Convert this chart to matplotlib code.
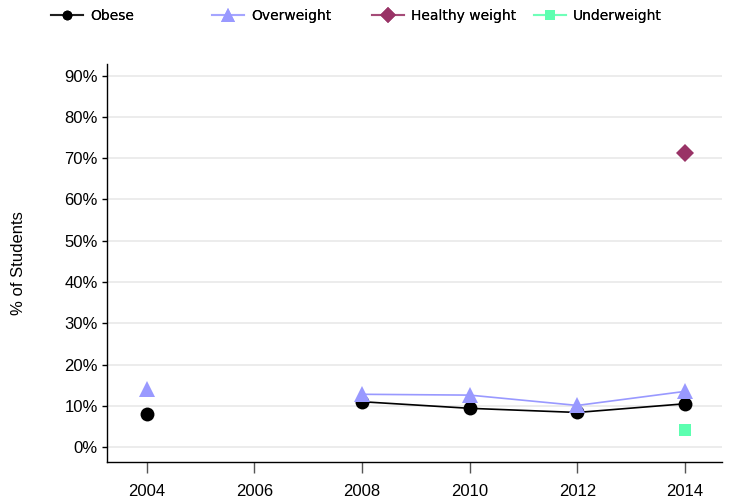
import numpy as np
import matplotlib
matplotlib.use("Agg")
import matplotlib.pyplot as plt
from matplotlib.lines import Line2D
from matplotlib.ticker import FuncFormatter

years = [2004, 2006, 2008, 2010, 2012, 2014]
obese = [8.0, np.nan, 11.0, 9.4, 8.4, 10.5]
overweight = [14.0, np.nan, 12.8, 12.6, 10.1, 13.5]
healthy = [np.nan, np.nan, np.nan, np.nan, np.nan, 71.2]
underweight = [np.nan, np.nan, np.nan, np.nan, np.nan, 4.2]
series_names = ["Obese", "Overweight", "Healthy weight", "Underweight"]
yticks = [0, 10, 20, 30, 40, 50, 60, 70, 80, 90]

colors = ["#000000", "#9999FF", "#993366", "#5CFFB0"]
markers = ["o", "^", "D", "s"]
msizes = [10, 12, 9.5, 9]
leg_msizes = [7, 10, 8, 7]

fig = plt.figure(figsize=(7.3, 5.03), dpi=100)
ax = fig.add_axes([107/730, (503-462)/503, (722-107)/730, (462-64)/503])

for vals, c, m, ms in zip([obese, overweight, healthy, underweight], colors, markers, msizes):
    ax.plot(years, vals, color=c, marker=m, markersize=ms, linewidth=1.2,
            markeredgewidth=0, zorder=3)

ax.set_xlim(2003.26, 2014.69)
ax.set_ylim(-3.6, 92.8)
ax.set_xticks(years)
ax.set_yticks(yticks)
ax.yaxis.set_major_formatter(FuncFormatter(lambda v, p: f"{v:.0f}%"))
ax.grid(axis="y", color="#ebebeb", linewidth=1.3, zorder=0)
ax.set_axisbelow(True)
for s in ["top", "right"]:
    ax.spines[s].set_visible(False)
for s in ["left", "bottom"]:
    ax.spines[s].set_linewidth(1.0)
ax.tick_params(axis="x", length=8, width=1.0, color="#555555", pad=8,
               labelsize=12)
ax.tick_params(axis="y", length=3.5, width=1.0, pad=3, labelsize=12)
for lab in ax.get_xticklabels() + ax.get_yticklabels():
    lab.set_fontfamily("Liberation Sans")
ax.set_ylabel("% of Students", fontsize=12, fontfamily="Liberation Sans")
ax.yaxis.set_label_coords(26/730, (503-263.5)/503, transform=fig.transFigure)

xs = [51, 212, 372, 534]
for name, c, m, ms, x in zip(series_names, colors, markers, leg_msizes, xs):
    rgba = matplotlib.colors.to_rgba(c, 0.65)
    h = Line2D([], [], color=rgba, linewidth=1.5, marker=m, markersize=ms,
               markerfacecolor=c, markeredgewidth=0)
    leg = fig.legend([h], [name], loc="center left",
                     bbox_to_anchor=(x/730, 1 - 16/503), frameon=False,
                     borderpad=0, borderaxespad=0, handlelength=2.3,
                     handletextpad=0.5, prop={"family": "DejaVu Sans", "size": 10})
    fig.add_artist(leg)

fig.savefig("out.png", dpi=100)
